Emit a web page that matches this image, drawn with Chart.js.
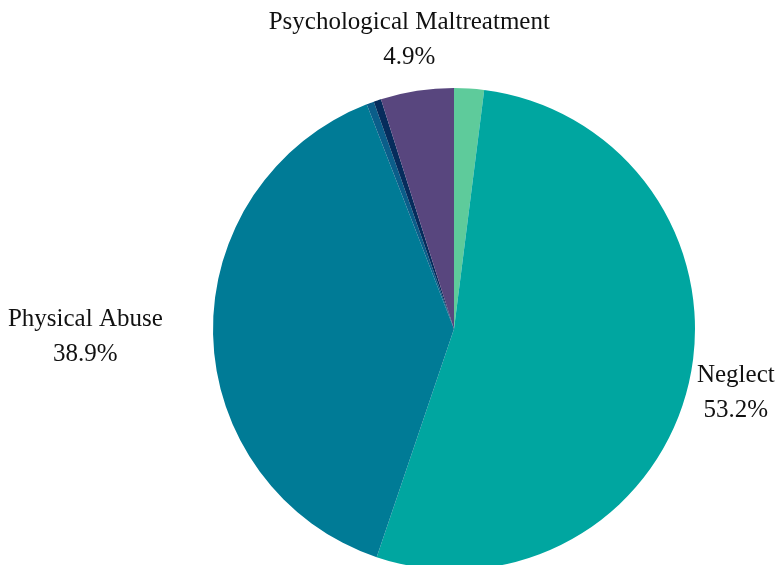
<!DOCTYPE html>
<html>
<head>
<meta charset="utf-8">
<script src="https://cdn.jsdelivr.net/npm/chart.js@4.4.0/dist/chart.umd.min.js"></script>
<style>
    html, body { margin: 0; padding: 0; background: #ffffff; overflow: hidden; }
    #wrap { width: 781px; height: 570px; }
</style>
</head>
<body>
<div id="wrap"><canvas id="myChart"></canvas></div>
<script>
// categories, clockwise from the top
const categorias = ['Other', 'Neglect', 'Physical Abuse', 'Sexual Abuse', 'Medical Neglect', 'Psychological Maltreatment'];
const valores = [2.0, 53.2, 38.9, 0.5, 0.5, 4.9];
const cores = ['#5ecb9b', '#00a6a0', '#007b96', '#0b5e8a', '#062c5c', '#58467e'];
const mostrarRotulo = [false, true, true, false, false, true];
// distance of each label from the centre, as a multiple of the radius
const distanciaRotulo = [1.2, 1.2, 1.53, 1.2, 1.2, 1.21];

const rotulosPlugin = {
    id: 'rotulos',
    afterDatasetsDraw(chart) {
        const ctx = chart.ctx;
        const meta = chart.getDatasetMeta(0);
        ctx.save();
        ctx.font = '25px "Liberation Serif", "DejaVu Serif", serif';
        ctx.fillStyle = '#111111';
        ctx.textAlign = 'center';
        ctx.textBaseline = 'middle';
        meta.data.forEach(function (arc, i) {
            if (!mostrarRotulo[i]) return;
            const p = arc.getProps(['x', 'y', 'startAngle', 'endAngle', 'outerRadius'], true);
            const ang = (p.startAngle + p.endAngle) / 2;
            const r = p.outerRadius * distanciaRotulo[i];
            const x = p.x + Math.cos(ang) * r;
            const y = p.y + Math.sin(ang) * r;
            ctx.fillText(categorias[i], x, y - 18);
            ctx.fillText(valores[i].toFixed(1) + '%', x, y + 17);
        });
        ctx.restore();
    }
};

const ctx1 = document.getElementById('myChart');
new Chart(ctx1, {
    type: 'pie',
    data: {
        labels: categorias,
        datasets: [{
            data: valores,
            backgroundColor: cores,
            borderWidth: 0
        }]
    },
    options: {
        responsive: true,
        maintainAspectRatio: false,
        animation: false,
        layout: {
            padding: { top: 88, bottom: 0, left: 213, right: 86 }
        },
        plugins: {
            legend: { display: false },
            tooltip: { enabled: false }
        }
    },
    plugins: [rotulosPlugin]
});
</script>
</body>
</html>
